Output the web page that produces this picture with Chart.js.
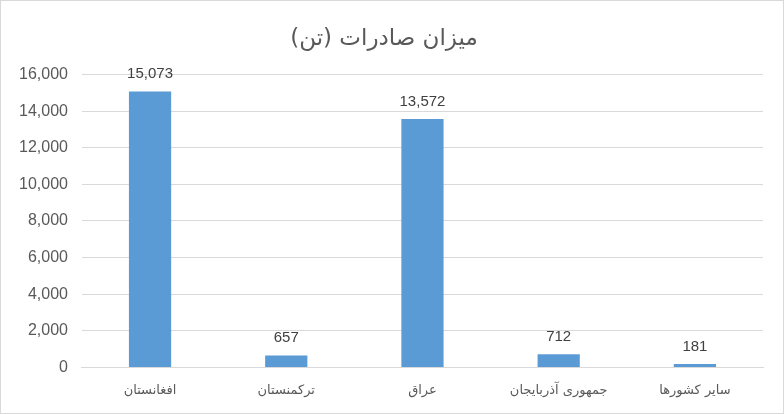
<!DOCTYPE html>
<html>
<head>
<meta charset="utf-8">
<script src="https://cdn.jsdelivr.net/npm/chart.js@4/dist/chart.umd.min.js"></script>
<style>
  html, body { margin: 0; padding: 0; background: #ffffff; }
  #wrap { position: relative; width: 782px; height: 412px; border: 1px solid #d9d9d9; }
</style>
</head>
<body>
<div id="wrap"><canvas id="chart"></canvas></div>
<script>
const countries = ['افغانستان', 'ترکمنستان', 'عراق', 'جمهوری آذربایجان', 'سایر کشورها'];
const exportTons = [15073, 657, 13572, 712, 181];
const chartTitle = 'میزان صادرات (تن)';

// writes the value above each bar
const valueLabels = {
    id: 'valueLabels',
    afterDatasetsDraw(chart) {
        const ctx = chart.ctx;
        const meta = chart.getDatasetMeta(0);
        ctx.save();
        ctx.font = '15px "Liberation Sans", Arial, sans-serif';
        ctx.fillStyle = '#404040';
        ctx.textAlign = 'center';
        ctx.textBaseline = 'bottom';
        meta.data.forEach((bar, i) => {
            ctx.fillText(exportTons[i].toLocaleString('en-US'), bar.x, bar.y - 10);
        });
        ctx.restore();
    }
};

const dataBar = {
    labels: countries,
    datasets: [{
        label: chartTitle,
        data: exportTons,
        backgroundColor: '#5b9bd5',
        barPercentage: 0.62,
        categoryPercentage: 0.5
    }]
};

const configBar = {
    type: 'bar',
    data: dataBar,
    options: {
        responsive: true,
        maintainAspectRatio: false,
        animation: false,
        layout: {
            padding: { left: 4, right: 20, top: 8, bottom: 0 }
        },
        plugins: {
            legend: { display: false },
            tooltip: { enabled: false },
            title: {
                display: true,
                text: chartTitle,
                color: '#595959',
                font: { family: '"DejaVu Sans", sans-serif', size: 23, weight: 'normal' },
                padding: { top: 16, bottom: 22 }
            }
        },
        scales: {
            y: {
                min: 0,
                max: 16000,
                ticks: {
                    stepSize: 2000,
                    color: '#595959',
                    padding: 14,
                    font: { family: '"Liberation Sans", Arial, sans-serif', size: 16 },
                    callback: (v) => v.toLocaleString('en-US')
                },
                grid: { color: '#d9d9d9', drawTicks: false },
                border: { display: false }
            },
            x: {
                ticks: {
                    color: '#595959',
                    padding: 15,
                    font: { family: '"DejaVu Sans", sans-serif', size: 13 }
                },
                grid: { display: false, drawTicks: false },
                border: { color: '#d9d9d9' }
            }
        }
    },
    plugins: [valueLabels]
};

const chartBar = new Chart(document.getElementById('chart'), configBar);
</script>
</body>
</html>
